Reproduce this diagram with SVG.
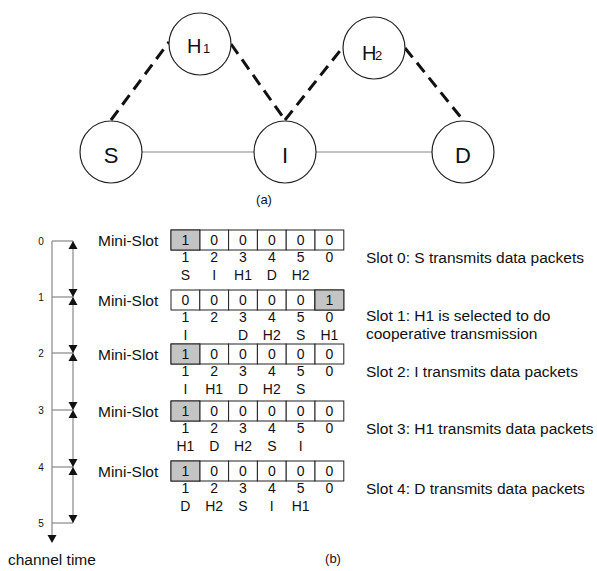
<svg xmlns="http://www.w3.org/2000/svg" width="597" height="571" viewBox="0 0 597 571">
<style>
text{font-family:"Liberation Sans",Arial,sans-serif;fill:#111}
.node{fill:#fff;stroke:#222;stroke-width:1.2}
.dash{stroke:#111;stroke-width:3;stroke-dasharray:12,7;fill:none}
.solid{stroke:#888;stroke-width:1.2;fill:none}
.big{font-size:22px;text-anchor:middle}
.lbl{font-size:20px}
.sub{font-size:13px}
.cap{font-size:13px;text-anchor:middle}
.cell{fill:#fff;stroke:#222;stroke-width:1}
.cellg{fill:#c4c4c4;stroke:#222;stroke-width:1}
.d{font-size:14px;text-anchor:middle}
.t{font-size:15.5px}
.tick{font-size:10px;text-anchor:middle}
.tl{stroke:#888;stroke-width:1.2;fill:none}
.ah{fill:#111}
</style>
<defs>
<path id="up" class="ah" d="M0,0 L-4.5,8 L4.5,8 Z"/>
<path id="dn" class="ah" d="M0,0 L-4.5,-8 L4.5,-8 Z"/>
<g id="row">
<rect class="cell" x="171" y="0" width="28.8" height="20"/>
<rect class="cell" x="199.8" y="0" width="28.8" height="20"/>
<rect class="cell" x="228.6" y="0" width="28.8" height="20"/>
<rect class="cell" x="257.4" y="0" width="28.8" height="20"/>
<rect class="cell" x="286.2" y="0" width="28.8" height="20"/>
<rect class="cell" x="315" y="0" width="28.8" height="20"/>
<text class="d" x="185.4" y="32">1</text><text class="d" x="214.2" y="32">2</text><text class="d" x="243" y="32">3</text><text class="d" x="271.8" y="32">4</text><text class="d" x="300.6" y="32">5</text><text class="d" x="329.4" y="32">0</text>
<text class="t" x="98" y="15.5">Mini-Slot</text>
</g>
</defs>

<g id="connectors">
<line class="solid" x1="142" y1="152" x2="254" y2="152"/>
<line class="solid" x1="316" y1="152" x2="432" y2="152"/>
<line class="dash" x1="111" y1="120" x2="169" y2="42"/>
<line class="dash" x1="231" y1="44" x2="285" y2="120"/>
<line class="dash" x1="285" y1="120" x2="343" y2="47"/>
<line class="dash" x1="405" y1="48" x2="463" y2="120"/>
</g>

<g id="H1"><circle class="node" cx="200" cy="44" r="31"/><text class="lbl" x="187" y="53">H</text><text class="sub" x="203" y="53">1</text></g>
<g id="H2"><circle class="node" cx="374" cy="48" r="31"/><text class="lbl" x="362" y="60">H</text><text class="sub" x="375" y="60">2</text></g>
<g id="S"><circle class="node" cx="111" cy="152" r="31"/><text class="big" x="111" y="163">S</text></g>
<g id="I"><circle class="node" cx="285" cy="152" r="31"/><text class="big" x="285" y="163">I</text></g>
<g id="D"><circle class="node" cx="463" cy="152" r="31"/><text class="big" x="463" y="163">D</text></g>
<text class="cap" x="264" y="204">(a)</text>

<g id="timeline">
<line class="tl" x1="52" y1="241" x2="52" y2="537"/>
<use href="#dn" x="52" y="543" transform="translate(0,0)"/>
<line class="tl" x1="73" y1="241" x2="73" y2="523"/>
<line class="tl" x1="52" y1="241" x2="73" y2="241"/>
<line class="tl" x1="52" y1="297" x2="73" y2="297"/>
<line class="tl" x1="52" y1="353" x2="73" y2="353"/>
<line class="tl" x1="52" y1="410" x2="73" y2="410"/>
<line class="tl" x1="52" y1="467" x2="73" y2="467"/>
<line class="tl" x1="52" y1="523" x2="73" y2="523"/>
<use href="#up" x="73" y="241"/>
<use href="#dn" x="73" y="297"/><use href="#up" x="73" y="297"/>
<use href="#dn" x="73" y="353"/><use href="#up" x="73" y="353"/>
<use href="#dn" x="73" y="410"/><use href="#up" x="73" y="410"/>
<use href="#dn" x="73" y="467"/><use href="#up" x="73" y="467"/>
<use href="#dn" x="73" y="523"/>
<text class="tick" x="41" y="245">0</text>
<text class="tick" x="41" y="301">1</text>
<text class="tick" x="41" y="357">2</text>
<text class="tick" x="41" y="414">3</text>
<text class="tick" x="41" y="471">4</text>
<text class="tick" x="41" y="527">5</text>
<text class="t" x="8" y="565">channel time</text>
</g>

<g id="slot0" transform="translate(0,230)">
<use href="#row"/>
<rect class="cellg" x="171" y="0" width="28.8" height="20"/>
<text class="d" x="185.4" y="15">1</text><text class="d" x="214.2" y="15">0</text><text class="d" x="243" y="15">0</text><text class="d" x="271.8" y="15">0</text><text class="d" x="300.6" y="15">0</text><text class="d" x="329.4" y="15">0</text>
<text class="d" x="185.4" y="50">S</text><text class="d" x="214.2" y="50">I</text><text class="d" x="243" y="50">H1</text><text class="d" x="271.8" y="50">D</text><text class="d" x="300.6" y="50">H2</text>
<text class="t" x="366" y="33">Slot 0: S transmits data packets</text>
</g>

<g id="slot1" transform="translate(0,290)">
<use href="#row"/>
<rect class="cellg" x="315" y="0" width="28.8" height="20"/>
<text class="d" x="185.4" y="15">0</text><text class="d" x="214.2" y="15">0</text><text class="d" x="243" y="15">0</text><text class="d" x="271.8" y="15">0</text><text class="d" x="300.6" y="15">0</text><text class="d" x="329.4" y="15">1</text>
<text class="d" x="185.4" y="50">I</text><text class="d" x="243" y="50">D</text><text class="d" x="271.8" y="50">H2</text><text class="d" x="300.6" y="50">S</text><text class="d" x="329.4" y="50">H1</text>
<text class="t" x="366" y="31">Slot 1: H1 is selected to do</text>
<text class="t" x="366" y="49">cooperative transmission</text>
</g>

<g id="slot2" transform="translate(0,344)">
<use href="#row"/>
<rect class="cellg" x="171" y="0" width="28.8" height="20"/>
<text class="d" x="185.4" y="15">1</text><text class="d" x="214.2" y="15">0</text><text class="d" x="243" y="15">0</text><text class="d" x="271.8" y="15">0</text><text class="d" x="300.6" y="15">0</text><text class="d" x="329.4" y="15">0</text>
<text class="d" x="185.4" y="50">I</text><text class="d" x="214.2" y="50">H1</text><text class="d" x="243" y="50">D</text><text class="d" x="271.8" y="50">H2</text><text class="d" x="300.6" y="50">S</text>
<text class="t" x="366" y="33">Slot 2: I transmits data packets</text>
</g>

<g id="slot3" transform="translate(0,401)">
<use href="#row"/>
<rect class="cellg" x="171" y="0" width="28.8" height="20"/>
<text class="d" x="185.4" y="15">1</text><text class="d" x="214.2" y="15">0</text><text class="d" x="243" y="15">0</text><text class="d" x="271.8" y="15">0</text><text class="d" x="300.6" y="15">0</text><text class="d" x="329.4" y="15">0</text>
<text class="d" x="185.4" y="50">H1</text><text class="d" x="214.2" y="50">D</text><text class="d" x="243" y="50">H2</text><text class="d" x="271.8" y="50">S</text><text class="d" x="300.6" y="50">I</text>
<text class="t" x="366" y="33">Slot 3: H1 transmits data packets</text>
</g>

<g id="slot4" transform="translate(0,461)">
<use href="#row"/>
<rect class="cellg" x="171" y="0" width="28.8" height="20"/>
<text class="d" x="185.4" y="15">1</text><text class="d" x="214.2" y="15">0</text><text class="d" x="243" y="15">0</text><text class="d" x="271.8" y="15">0</text><text class="d" x="300.6" y="15">0</text><text class="d" x="329.4" y="15">0</text>
<text class="d" x="185.4" y="50">D</text><text class="d" x="214.2" y="50">H2</text><text class="d" x="243" y="50">S</text><text class="d" x="271.8" y="50">I</text><text class="d" x="300.6" y="50">H1</text>
<text class="t" x="366" y="33">Slot 4: D transmits data packets</text>
</g>

<text class="cap" x="333" y="563">(b)</text>
</svg>
